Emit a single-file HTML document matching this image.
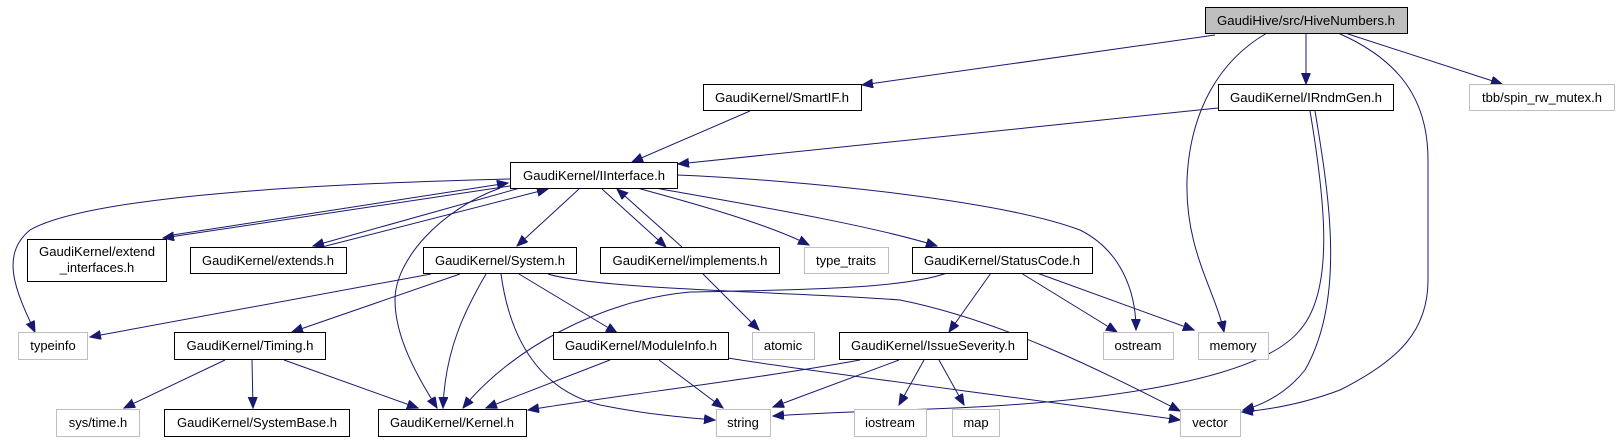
<!DOCTYPE html>
<html><head><meta charset="utf-8"><style>
html,body{margin:0;padding:0;background:#fff;}
svg{display:block;}
text{font-family:"Liberation Sans",Arial,sans-serif;font-size:13px;fill:#000;}
.n{fill:#fff;stroke:#000;stroke-width:1;}
.g{fill:#fff;stroke:#bfbfbf;stroke-width:1;}
.e{fill:none;stroke:#191970;stroke-width:1;}
</style></head><body>
<svg width="1620" height="443" viewBox="0 0 1620 443" xmlns="http://www.w3.org/2000/svg">
<defs>
<marker id="a" markerUnits="userSpaceOnUse" markerWidth="12" markerHeight="10" refX="11" refY="4.5" orient="auto">
<path d="M0,0 L11,4.5 L0,9 Z" fill="#191970" stroke="#191970"/>
</marker>
</defs>
<g class="edges">
<!-- HiveNumbers -->
<path class="e" marker-end="url(#a)" d="M1215,35 L862,85"/>
<path class="e" marker-end="url(#a)" d="M1306,33 L1306,84"/>
<path class="e" marker-end="url(#a)" d="M1345,33 L1502,84"/>
<path class="e" marker-end="url(#a)" d="M1267,33 C1220,60 1190,110 1187,180 C1185,250 1215,290 1224,332"/>
<path class="e" marker-end="url(#a)" d="M1338,33 C1400,60 1428,100 1428,160 L1428,280 C1428,330 1400,360 1340,390 C1300,405 1265,410 1242,412"/>
<!-- SmartIF -->
<path class="e" marker-end="url(#a)" d="M750,111 L632,162"/>
<!-- IRndmGen -->
<path class="e" marker-end="url(#a)" d="M1218,108 L678,164"/>
<path class="e" marker-end="url(#a)" d="M1310,111 C1325,200 1335,290 1300,330 C1260,380 1100,405 900,410 C850,412 800,414 773,416"/>
<path class="e" marker-end="url(#a)" d="M1315,111 C1330,200 1345,300 1305,370 C1285,395 1262,405 1243,410"/>
<!-- IInterface -->
<path class="e" marker-end="url(#a)" d="M510,179 C400,182 100,190 30,230 C0,255 15,290 35,332"/>
<path class="e" marker-end="url(#a)" d="M510,186 L163,238"/>
<path class="e" marker-end="url(#a)" d="M166,236 L508,183"/>
<path class="e" marker-end="url(#a)" d="M520,188 L313,246"/>
<path class="e" marker-end="url(#a)" d="M318,248 L548,189"/>
<path class="e" marker-end="url(#a)" d="M579,189 L517,246"/>
<path class="e" marker-end="url(#a)" d="M602,189 L666,247"/>
<path class="e" marker-end="url(#a)" d="M682,247 L617,189"/>
<path class="e" marker-end="url(#a)" d="M500,188 C440,210 395,260 395,300 C395,340 420,380 437,408"/>
<path class="e" marker-end="url(#a)" d="M637,188 C700,205 770,225 809,245"/>
<path class="e" marker-end="url(#a)" d="M655,188 C750,205 870,225 937,246"/>
<path class="e" marker-end="url(#a)" d="M677,175 C800,180 1000,200 1080,230 C1120,250 1136,290 1136,330"/>
<!-- System -->
<path class="e" marker-end="url(#a)" d="M431,274 L90,337"/>
<path class="e" marker-end="url(#a)" d="M460,274 L292,332"/>
<path class="e" marker-end="url(#a)" d="M486,274 C465,310 445,350 443,408"/>
<path class="e" marker-end="url(#a)" d="M501,274 C510,340 540,390 600,405 C650,415 690,418 715,420"/>
<path class="e" marker-end="url(#a)" d="M519,274 L617,333"/>
<path class="e" marker-end="url(#a)" d="M548,274 C600,290 800,292 900,300 C1000,320 1100,370 1180,411"/>
<!-- implements -->
<path class="e" marker-end="url(#a)" d="M703,274 L759,330"/>
<!-- StatusCode -->
<path class="e" marker-end="url(#a)" d="M947,273 C900,290 780,290 690,292 C600,300 510,350 463,408"/>
<path class="e" marker-end="url(#a)" d="M991,273 L949,332"/>
<path class="e" marker-end="url(#a)" d="M1021,273 L1117,332"/>
<path class="e" marker-end="url(#a)" d="M1037,273 L1194,330"/>
<!-- Timing -->
<path class="e" marker-end="url(#a)" d="M225,360 L124,408"/>
<path class="e" marker-end="url(#a)" d="M252,360 L253,408"/>
<path class="e" marker-end="url(#a)" d="M284,360 L418,408"/>
<!-- ModuleInfo -->
<path class="e" marker-end="url(#a)" d="M610,360 L486,408"/>
<path class="e" marker-end="url(#a)" d="M659,360 L723,408"/>
<path class="e" marker-end="url(#a)" d="M728,358 C800,370 1000,395 1180,420"/>
<!-- IssueSeverity -->
<path class="e" marker-end="url(#a)" d="M860,360 C750,380 620,395 528,410"/>
<path class="e" marker-end="url(#a)" d="M899,360 L773,407"/>
<path class="e" marker-end="url(#a)" d="M924,360 L899,405"/>
<path class="e" marker-end="url(#a)" d="M939,360 L964,405"/>
</g>
<g class="nodes">
<rect x="1205.5" y="7.5" width="202" height="26" fill="#bfbfbf" stroke="#000"/>
<text x="1306" y="25" text-anchor="middle" textLength="178" lengthAdjust="spacingAndGlyphs">GaudiHive/src/HiveNumbers.h</text>

<rect class="n" x="703.5" y="84.5" width="158" height="26"/>
<text x="782" y="102" text-anchor="middle" textLength="134" lengthAdjust="spacingAndGlyphs">GaudiKernel/SmartIF.h</text>
<rect class="n" x="1218.5" y="84.5" width="175" height="26"/>
<text x="1306" y="102" text-anchor="middle" textLength="152" lengthAdjust="spacingAndGlyphs">GaudiKernel/IRndmGen.h</text>
<rect class="g" x="1469.5" y="84.5" width="145" height="26"/>
<text x="1542" y="102" text-anchor="middle">tbb/spin_rw_mutex.h</text>

<rect class="n" x="510.5" y="162.5" width="167" height="26"/>
<text x="594" y="180" text-anchor="middle" textLength="142" lengthAdjust="spacingAndGlyphs">GaudiKernel/IInterface.h</text>

<rect class="n" x="27.5" y="239.5" width="139" height="42"/>
<text x="97" y="256" text-anchor="middle" textLength="116" lengthAdjust="spacingAndGlyphs">GaudiKernel/extend</text>
<text x="97" y="272" text-anchor="middle">_interfaces.h</text>
<rect class="n" x="190.5" y="247.5" width="156" height="26"/>
<text x="268" y="265" text-anchor="middle" textLength="132" lengthAdjust="spacingAndGlyphs">GaudiKernel/extends.h</text>
<rect class="n" x="423.5" y="247.5" width="153" height="26"/>
<text x="500" y="265" text-anchor="middle" textLength="130" lengthAdjust="spacingAndGlyphs">GaudiKernel/System.h</text>
<rect class="n" x="600.5" y="247.5" width="179" height="26"/>
<text x="690" y="265" text-anchor="middle" textLength="155" lengthAdjust="spacingAndGlyphs">GaudiKernel/implements.h</text>
<rect class="g" x="804.5" y="247.5" width="84" height="26"/>
<text x="846" y="265" text-anchor="middle">type_traits</text>
<rect class="n" x="912.5" y="247.5" width="180" height="26"/>
<text x="1002" y="265" text-anchor="middle" textLength="156" lengthAdjust="spacingAndGlyphs">GaudiKernel/StatusCode.h</text>

<rect class="g" x="18.5" y="332.5" width="69" height="27"/>
<text x="53" y="350" text-anchor="middle">typeinfo</text>
<rect class="n" x="174.5" y="332.5" width="151" height="27"/>
<text x="250" y="350" text-anchor="middle" textLength="127" lengthAdjust="spacingAndGlyphs">GaudiKernel/Timing.h</text>
<rect class="n" x="553.5" y="332.5" width="175" height="27"/>
<text x="641" y="350" text-anchor="middle" textLength="152" lengthAdjust="spacingAndGlyphs">GaudiKernel/ModuleInfo.h</text>
<rect class="g" x="752.5" y="332.5" width="62" height="27"/>
<text x="783" y="350" text-anchor="middle">atomic</text>
<rect class="n" x="839.5" y="332.5" width="188" height="27"/>
<text x="933" y="350" text-anchor="middle" textLength="164" lengthAdjust="spacingAndGlyphs">GaudiKernel/IssueSeverity.h</text>
<rect class="g" x="1103.5" y="332.5" width="70" height="27"/>
<text x="1138" y="350" text-anchor="middle">ostream</text>
<rect class="g" x="1198.5" y="332.5" width="70" height="27"/>
<text x="1233" y="350" text-anchor="middle">memory</text>

<rect class="g" x="56.5" y="409.5" width="83" height="27"/>
<text x="98" y="427" text-anchor="middle">sys/time.h</text>
<rect class="n" x="164.5" y="409.5" width="185" height="27"/>
<text x="257" y="427" text-anchor="middle" textLength="160" lengthAdjust="spacingAndGlyphs">GaudiKernel/SystemBase.h</text>
<rect class="n" x="378.5" y="409.5" width="148" height="27"/>
<text x="452" y="427" text-anchor="middle" textLength="124" lengthAdjust="spacingAndGlyphs">GaudiKernel/Kernel.h</text>
<rect class="g" x="716.5" y="409.5" width="54" height="27"/>
<text x="743" y="427" text-anchor="middle">string</text>
<rect class="g" x="854.5" y="409.5" width="72" height="27"/>
<text x="890" y="427" text-anchor="middle">iostream</text>
<rect class="g" x="952.5" y="409.5" width="47" height="27"/>
<text x="976" y="427" text-anchor="middle">map</text>
<rect class="g" x="1180.5" y="409.5" width="60" height="27"/>
<text x="1210" y="427" text-anchor="middle">vector</text>
</g>
</svg>
</body></html>
